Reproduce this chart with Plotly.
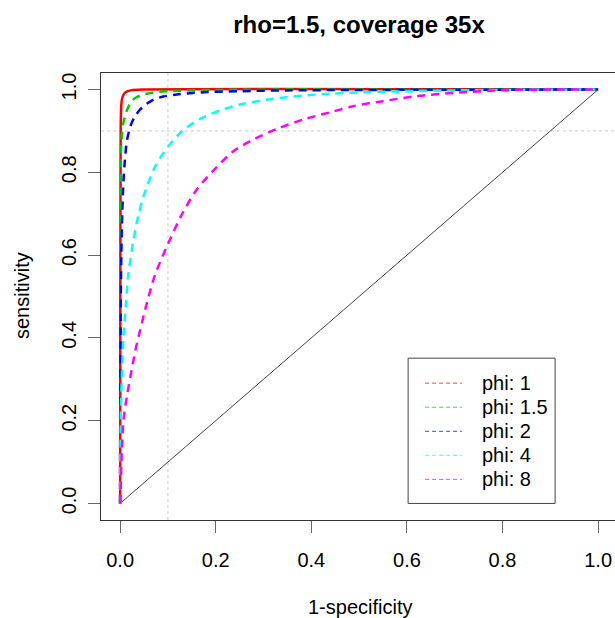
import plotly.graph_objects as go

# ---- data ----
phi_labels = ["phi: 1", "phi: 1.5", "phi: 2", "phi: 4", "phi: 8"]
colors = ["#FF0000", "#00CD00", "#0000FF", "#00FFFF", "#FF00FF"]

fpr_phi1 = [0, 0.0005, 0.001, 0.0015, 0.003, 0.006, 0.012, 0.022, 0.05, 1.0]
tpr_phi1 = [0, 0.60, 0.85, 0.93, 0.97, 0.985, 0.994, 0.998, 1.0, 1.0]

fpr_phi15 = [0, 0.0005, 0.001, 0.0015, 0.0035, 0.006, 0.010, 0.016, 0.024, 0.035, 0.049, 0.07, 0.098, 0.2, 0.4, 1.0]
tpr_phi15 = [0, 0.50, 0.70, 0.847, 0.887, 0.915, 0.935, 0.955, 0.972, 0.982, 0.988, 0.993, 0.996, 0.999, 1.0, 1.0]

fpr_phi2 = [0, 0.001, 0.0025, 0.0045, 0.007, 0.010, 0.014, 0.0195, 0.024, 0.032, 0.042, 0.055, 0.07, 0.09, 0.118, 0.167, 0.25, 0.35, 0.5, 1.0]
tpr_phi2 = [0, 0.45, 0.60, 0.70, 0.78, 0.83, 0.875, 0.903, 0.919, 0.937, 0.952, 0.965, 0.976, 0.983, 0.988, 0.993, 0.996, 0.998, 0.999, 1.0]

fpr_phi4 = [0, 0.0005, 0.0015, 0.004, 0.007, 0.012, 0.017, 0.028, 0.038, 0.049, 0.07, 0.085, 0.101, 0.13, 0.167, 0.21, 0.251, 0.31, 0.377, 0.44, 0.502, 0.6, 0.7, 0.8, 1.0]
tpr_phi4 = [0, 0.10, 0.225, 0.32, 0.403, 0.48, 0.552, 0.637, 0.695, 0.742, 0.806, 0.837, 0.863, 0.90, 0.929, 0.95, 0.964, 0.976, 0.985, 0.99, 0.993, 0.996, 0.998, 0.999, 1.0]

fpr_phi8 = [0, 0.0035, 0.007, 0.015, 0.024, 0.032, 0.042, 0.055, 0.073, 0.101, 0.13, 0.16, 0.2, 0.237, 0.28, 0.328, 0.39, 0.446, 0.488, 0.55, 0.62, 0.7, 0.795, 0.9, 1.0]
tpr_phi8 = [0, 0.124, 0.201, 0.265, 0.322, 0.37, 0.419, 0.48, 0.552, 0.629, 0.70, 0.758, 0.81, 0.851, 0.88, 0.905, 0.93, 0.947, 0.96, 0.972, 0.984, 0.992, 0.998, 1.0, 1.0]

diag_x = [0, 1]
diag_y = [0, 1]

x_ticks = [0.0, 0.2, 0.4, 0.6, 0.8, 1.0]
y_ticks = [0.0, 0.2, 0.4, 0.6, 0.8, 1.0]
tick_text = ["0.0", "0.2", "0.4", "0.6", "0.8", "1.0"]

ref_v = 0.1
ref_h = 0.9

title_text = "rho=1.5, coverage 35x"
x_title = "1-specificity"
y_title = "sensitivity"

FONT = "Liberation Sans, Arial, Helvetica, sans-serif"

curves = [(fpr_phi1, tpr_phi1), (fpr_phi15, tpr_phi15), (fpr_phi2, tpr_phi2),
          (fpr_phi4, tpr_phi4), (fpr_phi8, tpr_phi8)]

fig = go.Figure()

fig.add_trace(go.Scatter(x=diag_x, y=diag_y, mode="lines",
                         line=dict(color="#444444", width=1), showlegend=False,
                         hoverinfo="skip"))

for i, ((fx, ty), col) in enumerate(zip(curves, colors)):
    fig.add_trace(go.Scatter(
        x=fx, y=ty, mode="lines", name=phi_labels[i], showlegend=False,
        line=dict(color=col, width=2.5, shape="spline", smoothing=0.8,
                  dash="solid" if i == 0 else "8px,6px")))

shapes = []
# reference dotted lines
shapes.append(dict(type="line", xref="x", yref="y domain", x0=ref_v, x1=ref_v, y0=0, y1=1,
                   line=dict(color="#cccccc", width=1, dash="dot"), layer="below"))
shapes.append(dict(type="line", xref="paper", yref="y", x0=0, x1=1, y0=ref_h, y1=ref_h,
                   line=dict(color="#cccccc", width=1, dash="dot"), layer="below"))

# legend box (manual, R-style)
lx0, lx1, ly0, ly1 = 0.6025, 0.910, 0.0, 0.351
shapes.append(dict(type="rect", xref="x", yref="y", x0=lx0, x1=lx1, y0=ly0, y1=ly1,
                   line=dict(color="#444444", width=1), fillcolor="white", layer="above"))
annotations = []
entry_y = [0.2906, 0.2324, 0.1743, 0.1162, 0.0581]
for lab, col, ey in zip(phi_labels, colors, entry_y):
    shapes.append(dict(type="line", xref="x", yref="y", x0=0.638, x1=0.715, y0=ey, y1=ey,
                       line=dict(color=col, width=1, dash="4px,3px"), opacity=0.75,
                       layer="above"))
    annotations.append(dict(x=0.752, y=ey, xref="x", yref="y", text=lab, showarrow=False,
                            xanchor="left", yanchor="middle",
                            font=dict(family=FONT, size=20, color="black")))

# axis titles
annotations.append(dict(x=(360 - 101) / 514, y=(520 - 607) / 447, xref="paper", yref="paper",
                        text=x_title, showarrow=False, xanchor="center", yanchor="middle",
                        font=dict(family=FONT, size=20, color="black")))
annotations.append(dict(x=(22 - 101) / 514, y=(520 - 296) / 447, xref="paper", yref="paper",
                        text=y_title, showarrow=False, xanchor="center", yanchor="middle",
                        textangle=-90, font=dict(family=FONT, size=20, color="black")))

fig.update_layout(
    width=615, height=618,
    margin=dict(l=101, r=0, t=73, b=98, pad=0),
    paper_bgcolor="white", plot_bgcolor="white",
    showlegend=False,
    title=dict(text="<b>" + title_text + "</b>", xref="container", yref="container",
               x=359 / 615, y=1 - 25 / 618, xanchor="center", yanchor="middle",
               font=dict(family=FONT, size=24, color="black")),
    shapes=shapes, annotations=annotations,
    xaxis=dict(range=[-0.04, -0.04 + 514 / 478], tickvals=x_ticks, ticktext=tick_text,
               showgrid=False, zeroline=False, showline=True, mirror=True,
               linecolor="#333333", linewidth=1, ticks="outside", ticklen=12,
               tickcolor="#666666", tickwidth=1, ticklabelstandoff=10,
               tickfont=dict(family=FONT, size=20, color="black")),
    yaxis=dict(range=[-0.04, 1.04], tickvals=y_ticks, ticktext=tick_text,
               showgrid=False, zeroline=False, showline=True, mirror=False,
               linecolor="#333333", linewidth=1, ticks="outside", ticklen=12,
               tickcolor="#666666", tickwidth=1, tickangle=-90, ticklabelstandoff=4,
               tickfont=dict(family=FONT, size=20, color="black")),
)

fig.write_html("out.html")
